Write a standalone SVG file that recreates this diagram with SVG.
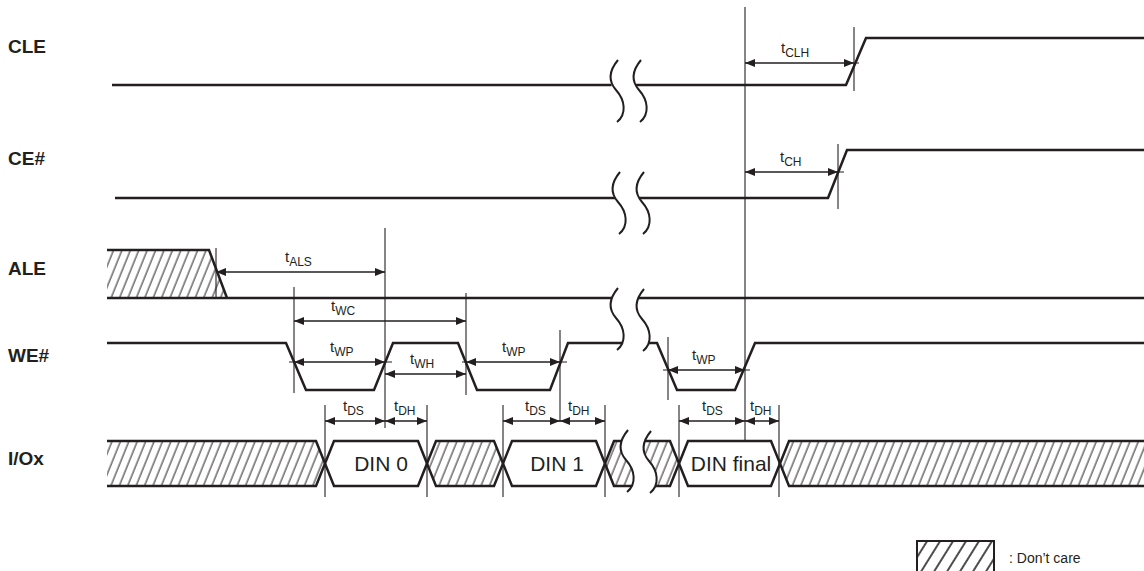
<svg xmlns="http://www.w3.org/2000/svg" width="1144" height="571" viewBox="0 0 1144 571">
<style>
.sig{fill:none;stroke:#231f20;stroke-width:2.5;stroke-linejoin:miter}
.brk{fill:none;stroke:#231f20;stroke-width:2}
.dim{fill:none;stroke:#231f20;stroke-width:1.1}
.arr{fill:none;stroke:#231f20;stroke-width:1.6;marker-start:url(#ah);marker-end:url(#ah)}
.lbl{font-family:"Liberation Sans",Arial,sans-serif;font-weight:bold;font-size:19px;fill:#231f20}
.t{font-family:"Liberation Sans",Arial,sans-serif;font-size:15px;fill:#231f20}
.s{font-size:12px}
.din{font-family:"Liberation Sans",Arial,sans-serif;font-size:21px;fill:#231f20;text-anchor:middle}
.leg{font-family:"Liberation Sans",Arial,sans-serif;font-size:14px;fill:#231f20}
.hat{fill:url(#h);stroke:none}
</style>
<defs>
<marker id="ah" viewBox="0 0 10 8" refX="10" refY="4" markerWidth="10" markerHeight="8" markerUnits="userSpaceOnUse" orient="auto-start-reverse">
<path d="M0,0 L10,4 L0,8 z" fill="#231f20"/>
</marker>
<pattern id="h" patternUnits="userSpaceOnUse" width="7.8" height="20" patternTransform="rotate(22)">
<line x1="4" y1="-5" x2="4" y2="25" stroke="#231f20" stroke-width="1"/>
</pattern>
<pattern id="h2" patternUnits="userSpaceOnUse" width="11" height="20" patternTransform="rotate(32)">
<line x1="6" y1="-5" x2="6" y2="25" stroke="#231f20" stroke-width="1.6"/>
</pattern>
<path id="bc" d="M0,0 C-10,12 -9,22 -2,30 C7,40 9,54 -1,62"/>
<clipPath id="c3"><path d="M605,463.5 L614,441 L614,430 L628,430 C618,442 619,452 626,460 C635,470 637,484 627,492 L614,492 L614,486 Z"/></clipPath>
<clipPath id="c4"><path d="M651,431 C641,443 642,453 649,461 C658,471 660,485 650,493 L670,493 L670,486 L679,463.5 L670,441 L670,431 Z"/></clipPath>
</defs>
<rect width="1144" height="571" fill="#ffffff"/>

<g id="CLE">
<text class="lbl" x="8" y="53">CLE</text>
<path class="sig" d="M112,85 H611.6 M636,85 H846 L866,38 H1144"/>
<use href="#bc" class="brk" x="618" y="60"/>
<use href="#bc" class="brk" x="641" y="60"/>
</g>

<g id="CE">
<text class="lbl" x="8" y="165">CE#</text>
<path class="sig" d="M115,198 H615 M639,198 H828 L847,150 H1144"/>
<use href="#bc" class="brk" x="620" y="172"/>
<use href="#bc" class="brk" x="644" y="172"/>
</g>

<g id="ALE">
<text class="lbl" x="8" y="275">ALE</text>
<polygon class="hat" points="107,250 209,250 227,298 107,298"/>
<path class="sig" d="M107,250 H209 L227,298"/>
<path class="sig" d="M107,298 H611.8 M638.2,298 H1144"/>
</g>

<g id="WE">
<text class="lbl" x="8" y="362">WE#</text>
<path class="sig" d="M107,343 H286 L306,390 H374 L393,343 H458 L477,390 H550 L568,343 H622.3 M648.5,343 H657 L677,390 H735 L755,343 H1144"/>
<use href="#bc" class="brk" x="618" y="288"/>
<use href="#bc" class="brk" x="644" y="289"/>
</g>

<g id="IO">
<text class="lbl" x="8" y="465">I/Ox</text>
<polygon class="hat" points="107,441 316,441 325,463.5 316,486 107,486"/>
<polygon class="hat" points="427,463.5 436,441 494,441 503,463.5 494,486 436,486"/>
<rect class="hat" x="600" y="441" width="40" height="45" clip-path="url(#c3)"/>
<rect class="hat" x="640" y="441" width="45" height="45" clip-path="url(#c4)"/>
<polygon class="hat" points="780,463.5 789,441 1144,441 1144,486 789,486"/>
<path class="sig" d="M107,441 H316 L334,486 H418 L436,441 H494 L512,486 H596 L614,441 H621.7"/>
<path class="sig" d="M107,486 H316 L334,441 H418 L436,486 H494 L512,441 H596 L614,486 H632"/>
<path class="sig" d="M644.8,441 H670 L688,486 H771 L789,441 H1144"/>
<path class="sig" d="M655.3,486 H670 L688,441 H771 L789,486 H1144"/>
<use href="#bc" class="brk" x="628" y="430"/>
<use href="#bc" class="brk" x="651" y="431"/>
<text class="din" x="381" y="471">DIN 0</text>
<text class="din" x="557" y="471">DIN 1</text>
<text class="din" x="731" y="471">DIN final</text>
</g>

<g id="legend">
<rect x="917" y="541" width="77" height="40" fill="url(#h2)" stroke="#231f20" stroke-width="2"/>
<text class="leg" x="1009" y="563">: Don’t care</text>
</g>

<g id="connectors">
<line class="dim" x1="745" y1="7" x2="745" y2="440"/>
<line class="dim" x1="854" y1="27" x2="854" y2="91"/>
<line class="dim" x1="838" y1="144" x2="838" y2="209"/>
<line class="dim" x1="216" y1="248" x2="216" y2="298"/>
<line class="dim" x1="385" y1="228" x2="385" y2="428"/>
<line class="dim" x1="294" y1="287" x2="294" y2="393"/>
<line class="dim" x1="466" y1="293" x2="466" y2="395"/>
<line class="dim" x1="560" y1="330" x2="560" y2="422"/>
<line class="dim" x1="668" y1="337" x2="668" y2="400"/>
<line class="dim" x1="325" y1="405" x2="325" y2="497"/>
<line class="dim" x1="427" y1="405" x2="427" y2="497"/>
<line class="dim" x1="503" y1="405" x2="503" y2="497"/>
<line class="dim" x1="605" y1="405" x2="605" y2="497"/>
<line class="dim" x1="679" y1="405" x2="679" y2="497"/>
<line class="dim" x1="779" y1="405" x2="779" y2="497"/>
<path class="dim" d="M854,63 H859 M838,172 H844 M289,362 H294 M385,362 H392 M462,362 H466 M560,362 H567 M663,370 H668 M745,370 H750"/>

<line class="arr" x1="745" y1="63" x2="854" y2="63"/>
<line class="arr" x1="745" y1="172" x2="838" y2="172"/>
<line class="arr" x1="216" y1="272" x2="385" y2="272"/>
<line class="arr" x1="294" y1="321" x2="466" y2="321"/>
<line class="arr" x1="294" y1="362" x2="385" y2="362"/>
<line class="arr" x1="385" y1="374" x2="466" y2="374"/>
<line class="arr" x1="466" y1="362" x2="560" y2="362"/>
<line class="arr" x1="668" y1="370" x2="745" y2="370"/>
<line class="arr" x1="325" y1="421" x2="385" y2="421"/>
<line class="arr" x1="385" y1="421" x2="427" y2="421"/>
<line class="arr" x1="503" y1="421" x2="560" y2="421"/>
<line class="arr" x1="560" y1="421" x2="605" y2="421"/>
<line class="arr" x1="679" y1="421" x2="745" y2="421"/>
<line class="arr" x1="745" y1="421" x2="779" y2="421"/>

<text class="t" x="781" y="53">t<tspan class="s" dy="4">CLH</tspan></text>
<text class="t" x="780" y="162">t<tspan class="s" dy="4">CH</tspan></text>
<text class="t" x="285" y="262">t<tspan class="s" dy="4">ALS</tspan></text>
<text class="t" x="331" y="311">t<tspan class="s" dy="4">WC</tspan></text>
<text class="t" x="330" y="352">t<tspan class="s" dy="4">WP</tspan></text>
<text class="t" x="410" y="364">t<tspan class="s" dy="4">WH</tspan></text>
<text class="t" x="502" y="352">t<tspan class="s" dy="4">WP</tspan></text>
<text class="t" x="692" y="360">t<tspan class="s" dy="4">WP</tspan></text>
<text class="t" x="343" y="411">t<tspan class="s" dy="4">DS</tspan></text>
<text class="t" x="394" y="411">t<tspan class="s" dy="4">DH</tspan></text>
<text class="t" x="525" y="411">t<tspan class="s" dy="4">DS</tspan></text>
<text class="t" x="568" y="411">t<tspan class="s" dy="4">DH</tspan></text>
<text class="t" x="702" y="411">t<tspan class="s" dy="4">DS</tspan></text>
<text class="t" x="750" y="411">t<tspan class="s" dy="4">DH</tspan></text>
</g>
</svg>
